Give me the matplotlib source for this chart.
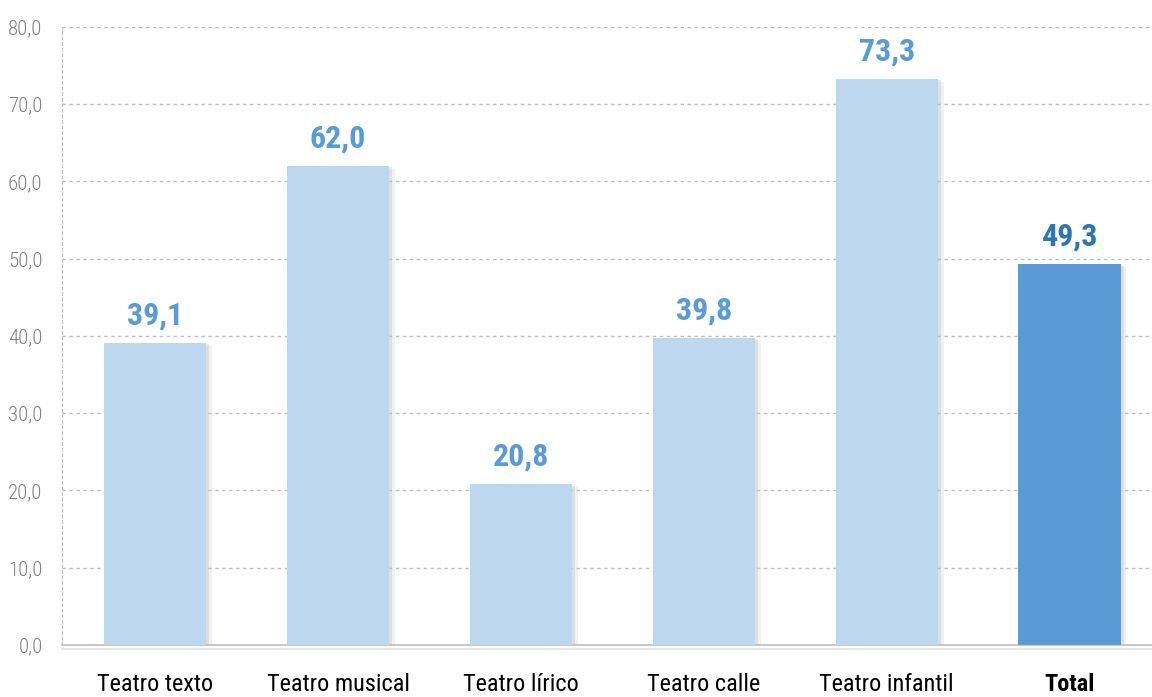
import matplotlib
matplotlib.use("Agg")
import matplotlib.pyplot as plt
import matplotlib.patheffects as pe
from matplotlib import font_manager

categories = ["Teatro texto", "Teatro musical", "Teatro lírico", "Teatro calle", "Teatro infantil", "Total"]
values = [39.1, 62.0, 20.8, 39.8, 73.3, 49.3]
yticks = [0, 10, 20, 30, 40, 50, 60, 70, 80]

names = set(f.name for f in font_manager.fontManager.ttflist)
fam = "Roboto Condensed" if "Roboto Condensed" in names else "Roboto"
plt.rcParams['font.family'] = [fam, 'DejaVu Sans']

light = "#BDD7EE"
dark = "#5B9BD5"

fig = plt.figure(figsize=(11.52, 6.97), dpi=100)
ax = fig.add_axes([0.0538, 0.0746, 0.9462, 0.8867])

x = list(range(len(categories)))
colors = [light] * (len(values) - 1) + [dark]
shadow = [pe.SimplePatchShadow(offset=(2, -1), shadow_rgbFace="#b0b0b0", alpha=0.3),
          pe.SimplePatchShadow(offset=(4, -2), shadow_rgbFace="#c8c8c8", alpha=0.25),
          pe.Normal()]
bars = ax.bar(x, values, width=0.56, color=colors, zorder=3)
for b in bars:
    b.set_path_effects(shadow)

for i, v in enumerate(values):
    lab = ("%.1f" % v).replace(".", ",")
    c = "#2E75B6" if i == len(values) - 1 else "#5B9BD5"
    ax.annotate(lab, (i, v), xytext=(0, 9), textcoords="offset points",
                ha="center", va="bottom", fontsize=23, fontweight="bold", color=c)

ax.set_xlim(-0.51, 5.45)
ax.set_ylim(0, 80)
ax.set_yticks(yticks)
ax.set_yticklabels([("%.1f" % t).replace(".", ",") for t in yticks],
                   fontsize=15, color="#808080", fontweight="light")
ax.set_xticks(x)
ax.set_xticklabels(categories, fontsize=17.5, color="black")
ax.get_xticklabels()[-1].set_fontweight("bold")
ax.tick_params(axis="both", length=0)
ax.tick_params(axis="x", pad=20)
ax.tick_params(axis="y", pad=14)

ax.grid(axis="y", color="#bfbfbf", linestyle=(0, (2.5, 2.5)), linewidth=1, zorder=0)
for s in ["top", "right"]:
    ax.spines[s].set_visible(False)
ax.spines["left"].set_color("#bfbfbf")
ax.spines["left"].set_linestyle((0, (2.5, 2.5)))
ax.spines["bottom"].set_color("#bfbfbf")
ax.spines["bottom"].set_linewidth(1.2)
ax.spines["bottom"].set_path_effects([pe.SimpleLineShadow(offset=(0, -3), shadow_color="#999999", alpha=0.3), pe.Normal()])

fig.savefig("out.png", dpi=100)
